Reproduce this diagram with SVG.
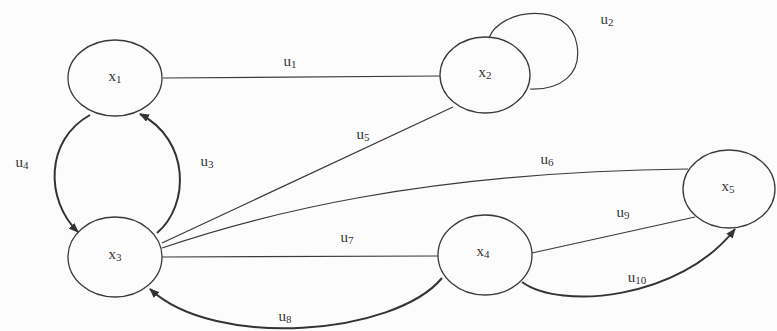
<svg xmlns="http://www.w3.org/2000/svg" width="777" height="331" viewBox="0 0 777 331">
<style>
.node ellipse{fill:none;stroke:#3a3a3a;stroke-width:1.3}
.lbl{font-family:"Liberation Serif","DejaVu Serif",serif;font-size:15px;fill:#333;text-anchor:middle}
.sub{font-size:11px}
.edge{fill:none;stroke:#3a3a3a;stroke-width:1.2}
.arc{fill:none;stroke:#333;stroke-width:2}
</style>
<defs>
<marker id="ah" markerWidth="10" markerHeight="8" refX="9" refY="4" orient="auto" markerUnits="userSpaceOnUse">
<path d="M0,0 L10,4 L0,8 z" fill="#333"/>
</marker>
</defs>
<rect width="777" height="331" fill="#fcfcfc"/>
<g id="connectors">
<path class="edge" d="M163,78 L440,76"/>
<path class="edge" d="M489,38 C500,8 570,0 577,45 C582,75 560,90 530,89"/>
<path class="arc" d="M90,115 C45,140 45,200 78,232" marker-end="url(#ah)"/>
<path class="arc" d="M157,233 C190,205 190,140 140,114" marker-end="url(#ah)"/>
<path class="edge" d="M162,243 L453,107"/>
<path class="edge" d="M162,248 C260,215 420,172 688,169"/>
<path class="edge" d="M162,257 L438,256"/>
<path class="arc" d="M442,278 C395,335 215,350 150,289" marker-end="url(#ah)"/>
<path class="edge" d="M532,253 L695,217"/>
<path class="arc" d="M522,282 C560,310 680,300 735,229" marker-end="url(#ah)"/>
<text class="lbl" x="290" y="66">u<tspan class="sub" dy="2">1</tspan></text>
<text class="lbl" x="607" y="24">u<tspan class="sub" dy="2">2</tspan></text>
<text class="lbl" x="207" y="166">u<tspan class="sub" dy="2">3</tspan></text>
<text class="lbl" x="22" y="167">u<tspan class="sub" dy="2">4</tspan></text>
<text class="lbl" x="363" y="139">u<tspan class="sub" dy="2">5</tspan></text>
<text class="lbl" x="547" y="164">u<tspan class="sub" dy="2">6</tspan></text>
<text class="lbl" x="347" y="242">u<tspan class="sub" dy="2">7</tspan></text>
<text class="lbl" x="285" y="321">u<tspan class="sub" dy="2">8</tspan></text>
<text class="lbl" x="623" y="217">u<tspan class="sub" dy="2">9</tspan></text>
<text class="lbl" x="637" y="282">u<tspan class="sub" dy="2">10</tspan></text>
</g>
<g id="x1" class="node"><ellipse cx="115" cy="78" rx="47" ry="38"/><text class="lbl" x="115" y="81">x<tspan class="sub" dy="2">1</tspan></text></g>
<g id="x2" class="node"><ellipse cx="485" cy="75" rx="45" ry="38"/><text class="lbl" x="485" y="77">x<tspan class="sub" dy="2">2</tspan></text></g>
<g id="x3" class="node"><ellipse cx="115" cy="257" rx="47" ry="40"/><text class="lbl" x="115" y="259">x<tspan class="sub" dy="2">3</tspan></text></g>
<g id="x4" class="node"><ellipse cx="485" cy="255" rx="47" ry="40"/><text class="lbl" x="483" y="256">x<tspan class="sub" dy="2">4</tspan></text></g>
<g id="x5" class="node"><ellipse cx="729" cy="189" rx="46" ry="39"/><text class="lbl" x="728" y="191">x<tspan class="sub" dy="2">5</tspan></text></g>
</svg>
